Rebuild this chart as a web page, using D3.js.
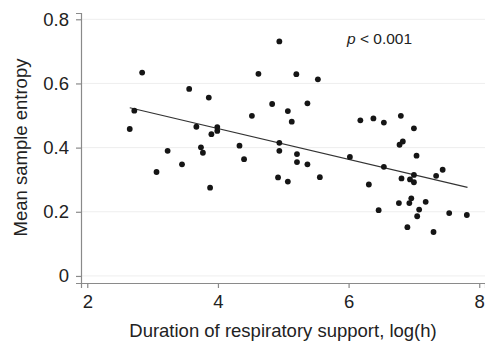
<!DOCTYPE html>
<html>
<head>
<meta charset="utf-8">
<script src="https://cdn.jsdelivr.net/npm/d3@7"></script>
<style>
	body { margin: 0; background: #fff; }
	#chart text { font-family: "Liberation Sans", Arial, Helvetica, sans-serif; fill: #222; }
</style>
</head>
<body>
<div id="chart"></div>
<script>
// x = duration of respiratory support, log(h); y = mean sample entropy
const durationLog = [
	2.65, 2.72, 2.84, 3.06, 3.23, 3.45, 3.56, 3.67, 3.74, 3.77,
	3.86, 3.88, 3.90, 3.99, 3.99, 4.33, 4.40, 4.52, 4.62, 4.83,
	4.92, 4.94, 4.94, 4.94, 5.07, 5.07, 5.13, 5.20, 5.21, 5.21,
	5.37, 5.37, 5.53, 5.56, 6.02, 6.18, 6.31, 6.38, 6.46, 6.54,
	6.54, 6.77, 6.78, 6.80, 6.81, 6.83, 6.90, 6.93, 6.94, 6.96,
	7.00, 7.00, 7.00, 7.04, 7.05, 7.08, 7.18, 7.30, 7.34, 7.44,
	7.54, 7.81
];
const sampleEntropy = [
	0.458, 0.515, 0.634, 0.324, 0.390, 0.348, 0.583, 0.465, 0.401, 0.384,
	0.556, 0.275, 0.442, 0.464, 0.452, 0.406, 0.364, 0.499, 0.630, 0.536,
	0.307, 0.731, 0.415, 0.390, 0.514, 0.294, 0.481, 0.629, 0.380, 0.355,
	0.538, 0.348, 0.613, 0.308, 0.371, 0.485, 0.285, 0.491, 0.205, 0.478,
	0.340, 0.227, 0.409, 0.499, 0.304, 0.419, 0.152, 0.227, 0.301, 0.242,
	0.292, 0.460, 0.315, 0.375, 0.186, 0.207, 0.231, 0.137, 0.312, 0.331,
	0.196, 0.190
];
// fitted regression line, read at its two ends
const fitX = [2.65, 7.82];
const fitY = [0.524, 0.276];
const xTicks = [2, 4, 6, 8];
const yTicks = [0, 0.2, 0.4, 0.6, 0.8];

let width = 485;
let height = 342;
let plotLeft = 81, plotRight = 485, plotTop = 13, plotBottom = 283;

let svg = d3.select("#chart")
	.append("svg")
	.attr("width", width)
	.attr("height", height);

let x = d3.scaleLinear().domain([1.904, 8.088]).range([plotLeft, plotRight]);
let y = d3.scaleLinear().domain([-0.022, 0.8196]).range([plotBottom, plotTop]);

// light horizontal grid
svg.append("g")
	.selectAll("line")
	.data(yTicks)
	.enter()
	.append("line")
	.attr("x1", plotLeft)
	.attr("x2", plotRight)
	.attr("y1", (d) => y(d))
	.attr("y2", (d) => y(d))
	.attr("stroke", "#eeeeee")
	.attr("stroke-width", 1);

let xAxis = svg.append("g")
	.attr("transform", "translate(0," + plotBottom + ")")
	.call(d3.axisBottom(x).tickValues(xTicks).tickFormat(d3.format("d")).tickSize(5).tickPadding(7));
let yAxis = svg.append("g")
	.attr("transform", "translate(" + plotLeft + ",0)")
	.call(d3.axisLeft(y).tickValues(yTicks).tickFormat((d) => d === 0 ? "0" : d3.format(".1f")(d)).tickSize(5).tickPadding(7));

[xAxis, yAxis].forEach((g) => {
	g.select(".domain").attr("stroke", "#8a8a8a").attr("stroke-width", 1.2);
	g.selectAll(".tick line").attr("stroke", "#8a8a8a").attr("stroke-width", 1.2);
	g.selectAll(".tick text").style("font-size", "18.5px").attr("fill", "#222");
});

// regression line
svg.append("line")
	.attr("x1", x(fitX[0]))
	.attr("y1", y(fitY[0]))
	.attr("x2", x(fitX[1]))
	.attr("y2", y(fitY[1]))
	.attr("stroke", "#333")
	.attr("stroke-width", 1.1);

// points
svg.append("g")
	.selectAll("circle")
	.data(durationLog)
	.enter()
	.append("circle")
	.attr("cx", (d) => x(d))
	.attr("cy", (d, i) => y(sampleEntropy[i]))
	.attr("r", 2.9)
	.attr("fill", "#151515");

// p value note
let note = svg.append("text")
	.attr("x", 347)
	.attr("y", 44)
	.style("font-size", "15.5px");
note.append("tspan").style("font-style", "italic").text("p");
note.append("tspan").text(" < 0.001");

// axis titles
svg.append("text")
	.attr("x", (plotLeft + plotRight) / 2)
	.attr("y", 336.5)
	.attr("text-anchor", "middle")
	.style("font-size", "18.5px")
	.text("Duration of respiratory support, log(h)");

svg.append("text")
	.attr("transform", "translate(26.5," + 147.5 + ") rotate(-90)")
	.attr("text-anchor", "middle")
	.style("font-size", "18.5px")
	.text("Mean sample entropy");
</script>
</body>
</html>
